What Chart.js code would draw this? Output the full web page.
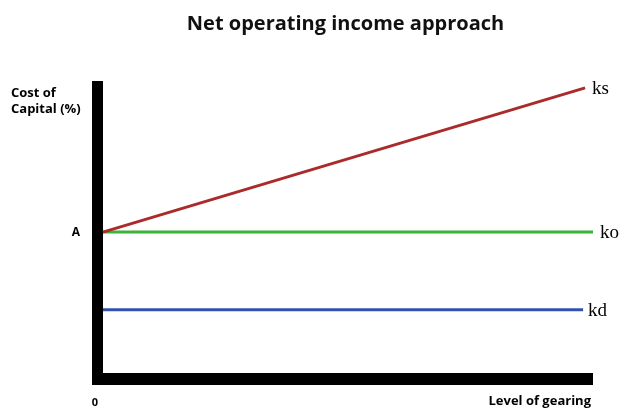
<!DOCTYPE html>
<html>
<head>
<meta charset="utf-8">
<script src="https://cdn.jsdelivr.net/npm/chart.js@4"></script>
<style>
  html, body { margin: 0; padding: 0; background: #fff; }
  #wrap { width: 622px; height: 408px; }
</style>
</head>
<body>
<div id="wrap"><canvas id="noiChart" width="622" height="408"></canvas></div>
<script>
// level of gearing (0-100) and cost of capital (0-100, A = ko level)
const seriesLabels = ['ks', 'ko', 'kd'];
const ksGearing = [1, 98.4];
const ksCost = [49.3, 97.7];
const koGearing = [1, 100];
const koCost = [49.3, 49.3];
const kdGearing = [1, 98];
const kdCost = [23.2, 23.2];
const colors = ['#ab2b2b', '#3cb43c', '#3452ad'];

const toPoints = (xs, ys) => xs.map((x, i) => ({ x: x, y: ys[i] }));

// thick black axes along the chart area edges
const axesPlugin = {
  id: 'axes',
  beforeDatasetsDraw(chart) {
    const { ctx, chartArea: a } = chart;
    ctx.save();
    ctx.fillStyle = '#000';
    ctx.fillRect(a.left - 6, a.top, 11, a.bottom - a.top + 6);
    ctx.fillRect(a.left - 6, a.bottom - 6, a.right - a.left + 6, 12);
    ctx.restore();
  }
};

const labelPlugin = {
  id: 'labels',
  afterDatasetsDraw(chart) {
    const ctx = chart.ctx;
    const xs = chart.scales.x, ys = chart.scales.y;
    ctx.save();
    ctx.fillStyle = '#000';
    ctx.textBaseline = 'middle';

    // series names at line ends
    ctx.font = '19px "Liberation Serif"';
    ctx.textAlign = 'left';
    const offs = [7, 7, 5];
    chart.data.datasets.forEach((ds, i) => {
      const last = ds.data[ds.data.length - 1];
      ctx.fillText(seriesLabels[i], xs.getPixelForValue(last.x) + offs[i], ys.getPixelForValue(last.y) + 1);
    });

    ctx.font = 'bold 13px "Open Sans"';
    ctx.fillText('Cost of', 11, 93);
    ctx.fillText('Capital (%)', 11, 109);
    ctx.textAlign = 'center';
    ctx.font = 'bold 12px "Open Sans"';
    ctx.fillText('A', 76, ys.getPixelForValue(koCost[0]));
    ctx.font = 'bold 11px "Open Sans"';
    ctx.fillText('0', 95, 403);
    ctx.font = 'bold 13px "Open Sans"';
    ctx.textAlign = 'right';
    ctx.fillText('Level of gearing', 591, 401);
    ctx.restore();
  }
};

const ctx = document.getElementById('noiChart').getContext('2d');
const noiChart = new Chart(ctx, {
  type: 'line',
  data: {
    datasets: [
      { label: seriesLabels[0], data: toPoints(ksGearing, ksCost), borderColor: colors[0] },
      { label: seriesLabels[1], data: toPoints(koGearing, koCost), borderColor: colors[1] },
      { label: seriesLabels[2], data: toPoints(kdGearing, kdCost), borderColor: colors[2] }
    ]
  },
  options: {
    responsive: false,
    animation: false,
    layout: { padding: { left: 98, right: 29, bottom: 29, top: 0 } },
    elements: {
      line: { borderWidth: 3, tension: 0 },
      point: { radius: 0 }
    },
    plugins: {
      legend: { display: false },
      tooltip: { enabled: false },
      title: {
        display: true,
        text: 'Net operating income approach',
        fullSize: false,
        color: '#111',
        font: { family: 'Open Sans', size: 20, weight: 'bold', lineHeight: 1.2 },
        padding: { top: 12, bottom: 45 }
      }
    },
    scales: {
      x: { type: 'linear', min: 0, max: 100, display: false },
      y: { min: 0, max: 100, display: false }
    }
  },
  plugins: [axesPlugin, labelPlugin]
});
</script>
</body>
</html>
